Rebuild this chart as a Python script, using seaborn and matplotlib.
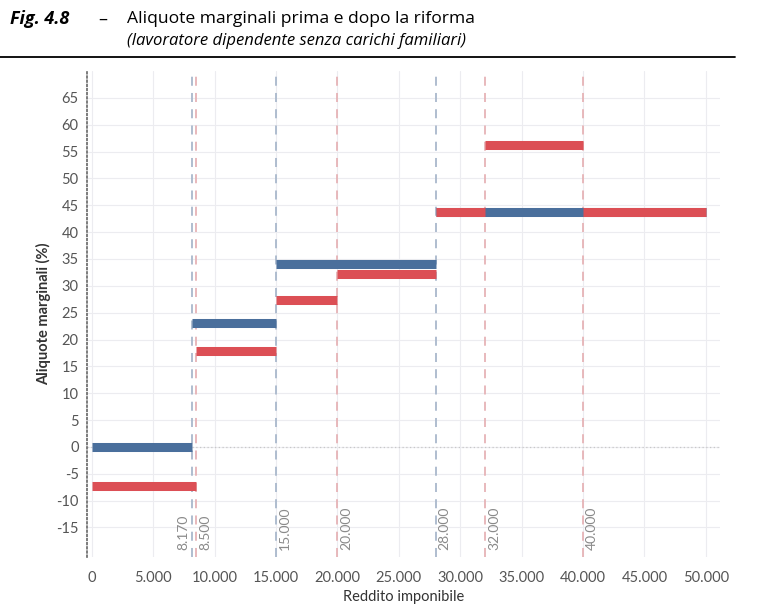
import matplotlib
matplotlib.use("Agg")
import matplotlib.pyplot as plt
import seaborn as sns
import pandas as pd
import numpy as np

# --- data ---
before_start = [0, 8170, 15000, 28000]
before_end = [8170, 15000, 28000, 50000]
before_rate = [0, 23.1, 34.1, 43.8]

after_start = [0, 8500, 15000, 20000, 28000, 32000, 40000]
after_end = [8500, 15000, 20000, 28000, 32000, 40000, 50000]
after_rate = [-7.2, 17.8, 27.4, 32.2, 43.8, 56.2, 43.8]

before_thresholds = [8170, 15000, 28000]
after_thresholds = [8500, 20000, 32000, 40000]
threshold_labels = {8170: "8.170", 8500: "8.500", 15000: "15.000", 20000: "20.000",
                    28000: "28.000", 32000: "32.000", 40000: "40.000"}

x_ticks = list(range(0, 50001, 5000))
y_ticks = list(range(-15, 66, 5))

BLUE = "#4a6f9c"
RED = "#dc4f55"

def segs(starts, ends, rates, name):
    rows = []
    for i, (s, e, r) in enumerate(zip(starts, ends, rates)):
        rows.append({"x": s, "y": r, "seg": f"{name}{i}"})
        rows.append({"x": e, "y": r, "seg": f"{name}{i}"})
    return pd.DataFrame(rows)

df_b = segs(before_start, before_end, before_rate, "b")
df_a = segs(after_start, after_end, after_rate, "a")

sns.set_theme(style="white")
plt.rcParams['font.family'] = ['Lato', 'DejaVu Sans']

fig = plt.figure(figsize=(7.67, 6.05), dpi=100)
ax = fig.add_axes([0.1134, 0.0793, 0.8253, 0.8033])

ax.set_xlim(-400, 51150)
ax.set_ylim(-20.5, 70)

# grid
for xv in x_ticks:
    ax.axvline(xv, color="#ececf0", lw=0.8, zorder=0)
for yv in y_ticks:
    ax.axhline(yv, color="#ececf0", lw=0.8, zorder=0)
ax.axhline(0, color="#c8c8c8", lw=0.9, ls=(0, (1, 2)), zorder=1)

# threshold lines
for t in before_thresholds:
    ax.axvline(t, color="#a9b8cc", lw=1.3, ls=(0, (5, 4)), zorder=1)
for t in after_thresholds:
    ax.axvline(t, color="#e6b3b6", lw=1.3, ls=(0, (5, 4)), zorder=1)

for t, lab in threshold_labels.items():
    if t == 8170:
        ax.text(t - 250, -19.2, lab, rotation=90, ha="right", va="bottom",
                fontsize=10, color="#8a8a8a")
    else:
        ax.text(t + 250, -19.2, lab, rotation=90, ha="left", va="bottom",
                fontsize=10, color="#8a8a8a")

sns.lineplot(data=df_b, x="x", y="y", units="seg", estimator=None, ax=ax,
             color=BLUE, lw=6.5, solid_capstyle="butt", zorder=3, legend=False)
sns.lineplot(data=df_a, x="x", y="y", units="seg", estimator=None, ax=ax,
             color=RED, lw=6.5, solid_capstyle="butt", zorder=4, legend=False)

ax.set_xticks(x_ticks)
ax.set_xticklabels(["0" if v == 0 else f"{v:,}".replace(",", ".") for v in x_ticks])
ax.set_yticks(y_ticks)
ax.set_yticklabels([str(v) for v in y_ticks])
ax.tick_params(axis="both", labelsize=10.5, colors="#555555", length=4, width=0.8,
               direction="out")
ax.tick_params(axis="x", color="#888888", pad=6)
ax.tick_params(axis="y", color="#888888", pad=2)

for s in ["top", "right", "bottom"]:
    ax.spines[s].set_visible(False)
ax.spines["left"].set_linestyle((0, (1, 1.5)))
ax.spines["left"].set_color("#666666")
ax.spines["left"].set_linewidth(1.2)

ax.set_xlabel("Reddito imponibile", fontsize=10.5, color="#333333", labelpad=4)
ax.set_ylabel("Aliquote marginali (%)", fontsize=10.5, color="#333333",
              fontweight="bold", labelpad=4)

# header
hdr = ["Open Sans", "DejaVu Sans"]
fig.text(0.013, 0.968, "Fig. 4.8", fontsize=13, fontweight="bold", style="italic",
         color="black", va="center", family=hdr)
fig.text(0.128, 0.968, "\u2013", fontsize=13, color="black", va="center", family=hdr)
fig.text(0.166, 0.968, "Aliquote marginali prima e dopo la riforma", fontsize=12.6,
         color="black", va="center", family=hdr)
fig.text(0.166, 0.933, "(lavoratore dipendente senza carichi familiari)", fontsize=12,
         style="italic", color="black", va="center", family=hdr)
fig.add_artist(plt.Line2D([0.0, 0.958], [0.906, 0.906], color="black", lw=1.3,
                          transform=fig.transFigure))

fig.savefig("out.png", dpi=100)
